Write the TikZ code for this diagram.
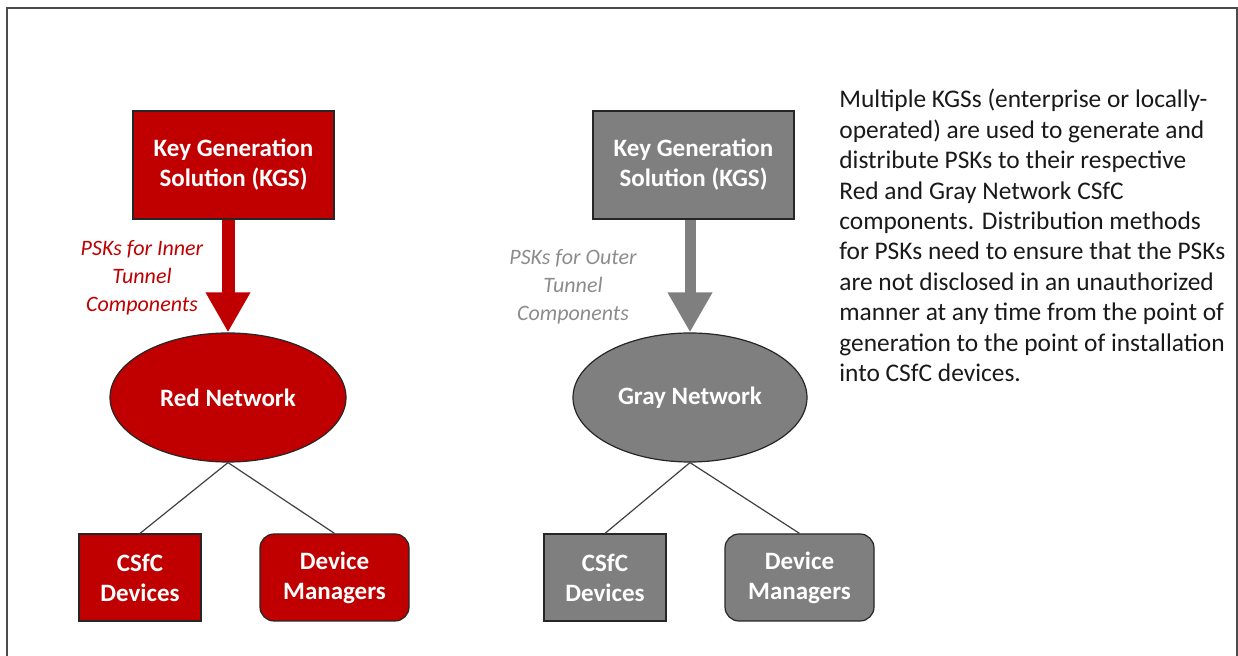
\documentclass[tikz,border=0pt]{standalone}
\usepackage{fontspec}
\setmainfont{Carlito}
\usetikzlibrary{arrows.meta,shapes.geometric}
\definecolor{kgsred}{HTML}{C00000}
\definecolor{kgsgray}{HTML}{7F7F7F}
\definecolor{pskgray}{HTML}{8C8C8C}
\begin{document}
\begin{tikzpicture}[x=0.5pt,y=-0.5pt,
    box/.style={draw=black!85,line width=0.6pt,text=white,font=\fontsize{12.5}{15}\selectfont\bfseries,align=center,inner sep=0pt},
    net/.style={box,ellipse},
    mgr/.style={box,rounded corners=7pt},
    psk/.style={font=\fontsize{11}{14}\selectfont\itshape,align=center},
    link/.style={draw=black!75,line width=0.6pt}]
        \useasboundingbox (0,0) rectangle (1238,656);
        \draw[black!70,line width=1pt] (7,660) -- (7,8) -- (1237,8) -- (1237,660);
        \node[box,fill=kgsred,minimum width=100.5pt,minimum height=54pt] (rkgs) at (233.5,165) {Key Generation\\Solution (KGS)};
        \node[net,fill=kgsred,minimum width=118pt,minimum height=64.5pt] (rnet) at (228,397.5) {Red Network};
        \node[box,fill=kgsred,minimum width=61pt,minimum height=43.5pt] (rdev) at (140,577.5) {CSfC\\Devices};
        \node[mgr,fill=kgsred,minimum width=74.5pt,minimum height=43.5pt] (rmgr) at (334.5,577.5) {Device\\Managers};
        \node[psk,text=kgsred] (rpsk) at (142,278) {PSKs for Inner\\Tunnel\\Components};
        \draw[kgsred,line width=6.5pt,-{Triangle[width=21pt,length=20pt]}] (rnet.north |- rkgs.south) -- (rnet.north);
        \draw[link] (rnet.south) -- (rdev.north);
        \draw[link] (rnet.south) -- (rmgr.north);
        \node[box,fill=kgsgray,minimum width=100.5pt,minimum height=54pt] (gkgs) at (693.5,165) {Key Generation\\Solution (KGS)};
        \node[net,fill=kgsgray,minimum width=117pt,minimum height=64.5pt] (gnet) at (690,397.5) {Gray Network};
        \node[box,fill=kgsgray,minimum width=61pt,minimum height=43.5pt] (gdev) at (605,577.5) {CSfC\\Devices};
        \node[mgr,fill=kgsgray,minimum width=74.5pt,minimum height=43.5pt] (gmgr) at (799.5,577.5) {Device\\Managers};
        \node[psk,text=pskgray] (gpsk) at (573,287) {PSKs for Outer\\Tunnel\\Components};
        \draw[kgsgray,line width=5.5pt,-{Triangle[width=21pt,length=20pt]}] (gnet.north |- gkgs.south) -- (gnet.north);
        \draw[link] (gnet.south) -- (gdev.north);
        \draw[link] (gnet.south) -- (gmgr.north);
        \node[anchor=north west,align=left,inner sep=0pt,text=black!90,font=\fontsize{12.7}{15.2}\selectfont] (note) at (839,89)
            {Multiple KGSs (enterprise or locally-\\operated) are used to generate and\\distribute PSKs to their respective\\Red and Gray Network CSfC\\components. Distribution methods\\for PSKs need to ensure that the PSKs\\are not disclosed in an unauthorized\\manner at any time from the point of\\generation to the point of installation\\into CSfC devices.};
\end{tikzpicture}
\end{document}
